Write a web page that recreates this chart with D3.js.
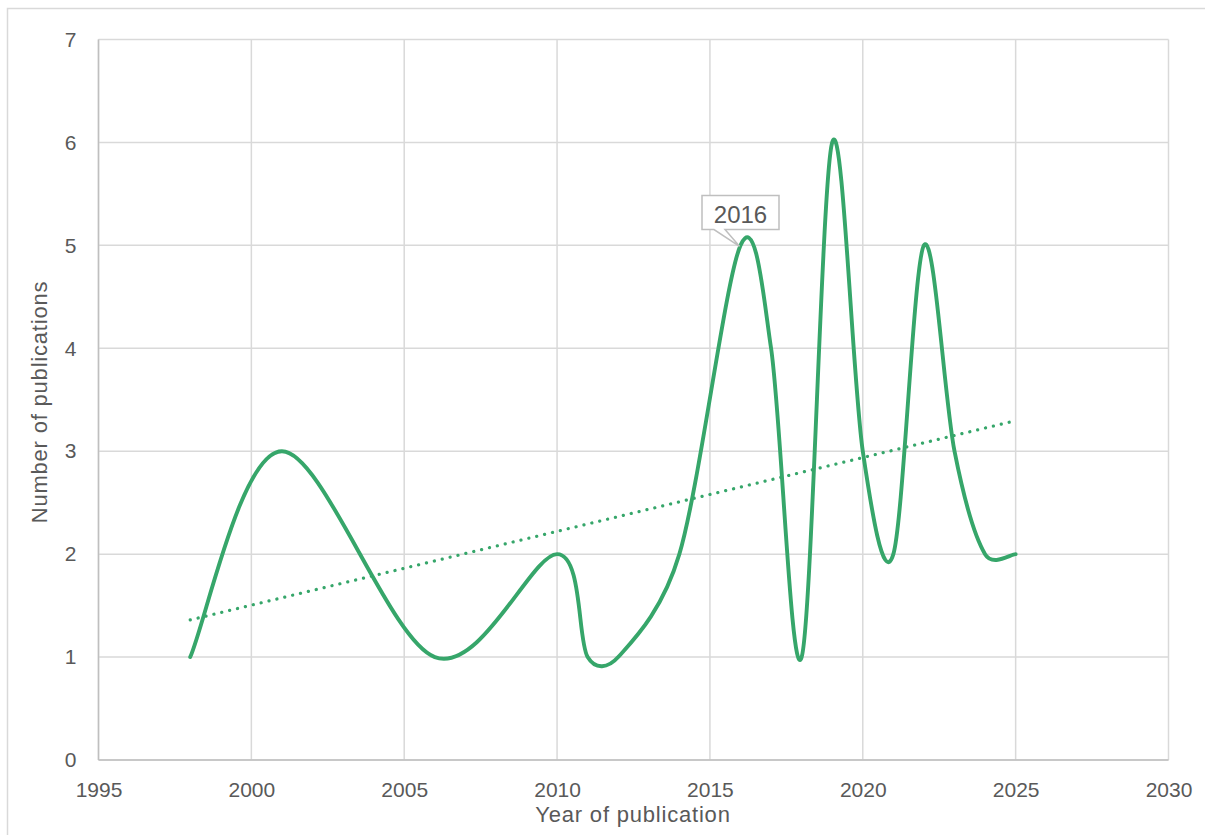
<!DOCTYPE html>
<html><head><meta charset="utf-8">
<script src="https://cdn.jsdelivr.net/npm/d3@7"></script>
<style>
html,body{margin:0;padding:0;background:#fff;}
svg{display:block;}
text{font-family:"Liberation Sans",Arial,sans-serif;fill:#595959;}
</style></head>
<body>
<svg id="chart" width="1205" height="835"></svg>
<script>
const years = [1998, 2001, 2006, 2010, 2011, 2012, 2014, 2016, 2017, 2018, 2019, 2020, 2021, 2022, 2023, 2024, 2025];
const publications = [1, 3, 1, 2, 1, 1, 2, 5, 4, 1, 6, 3, 2, 5, 3, 2, 2];
const xTicks = [1995, 2000, 2005, 2010, 2015, 2020, 2025, 2030];
const yTicks = [0, 1, 2, 3, 4, 5, 6, 7];
const calloutLabel = "2016";
const calloutYear = 2016;
const xTitle = "Year of publication";
const yTitle = "Number of publications";

const svg = d3.select("#chart");
const green = "#36a66a";
const grid = "#d9d9d9";
const FONT = '"Liberation Sans",Arial,sans-serif';

// Excel-style smoothing curve for d3.line (Catmull-Rom with 1/6 tangents, clamped to half segment length)
function ExcelSmooth(context) { this._context = context; }
ExcelSmooth.prototype = {
  areaStart() { this._line = 0; },
  areaEnd() { this._line = NaN; },
  lineStart() { this._pts = []; },
  point(px, py) { this._pts.push([+px, +py]); },
  lineEnd() {
    const p = this._pts, n = p.length, c = this._context;
    if (!n) return;
    c.moveTo(p[0][0], p[0][1]);
    if (n === 2) { c.lineTo(p[1][0], p[1][1]); return; }
    const dist = (a, b) => Math.hypot(b[0] - a[0], b[1] - a[1]);
    for (let i = 0; i < n - 1; i++) {
      const p0 = p[Math.max(i - 1, 0)], p1 = p[i], p2 = p[i + 1], p3 = p[Math.min(i + 2, n - 1)];
      const d12 = dist(p1, p2), d02 = dist(p0, p2), d13 = dist(p1, p3);
      let f = 1 / 6, g = 1 / 6;
      if (d02 / 6 >= d12 / 2) f = d12 / d02 / 2;
      if (d13 / 6 >= d12 / 2) g = d12 / d13 / 2;
      c.bezierCurveTo(
        p1[0] + f * (p2[0] - p0[0]), p1[1] + f * (p2[1] - p0[1]),
        p2[0] - g * (p3[0] - p1[0]), p2[1] - g * (p3[1] - p1[1]),
        p2[0], p2[1]);
    }
  }
};
const curveExcel = ctx => new ExcelSmooth(ctx);

// outer chart border
svg.append("rect").attr("x", 7.5).attr("y", 8.5).attr("width", 1205).attr("height", 840)
  .attr("fill", "none").attr("stroke", grid).attr("stroke-width", 1.5);

const x = d3.scaleLinear().domain([1995, 2030]).range([98.5, 1168.5]);
const y = d3.scaleLinear().domain([0, 7]).range([760, 39.5]);

// gridlines
svg.append("g").selectAll("line").data(xTicks).join("line")
  .attr("x1", d => x(d)).attr("x2", d => x(d)).attr("y1", y(7)).attr("y2", y(0))
  .attr("stroke", grid).attr("stroke-width", 1.5);
svg.append("g").selectAll("line").data(yTicks).join("line")
  .attr("x1", x(1995)).attr("x2", x(2030)).attr("y1", d => y(d)).attr("y2", d => y(d))
  .attr("stroke", grid).attr("stroke-width", 1.5);

// axis lines
svg.append("line").attr("x1", x(1995)).attr("x2", x(2030)).attr("y1", y(0)).attr("y2", y(0))
  .attr("stroke", "#bfbfbf").attr("stroke-width", 1.5);
svg.append("line").attr("x1", x(1995)).attr("x2", x(1995)).attr("y1", y(0)).attr("y2", y(7))
  .attr("stroke", "#bfbfbf").attr("stroke-width", 1.5);

// tick labels via d3 axes
const xAxis = svg.append("g").attr("transform", `translate(0,${y(0)})`)
  .call(d3.axisBottom(x).tickValues(xTicks).tickFormat(d3.format("d")).tickSize(0));
xAxis.select(".domain").remove();
xAxis.selectAll("text").attr("y", 37).attr("dy", null).attr("font-size", 21)
  .attr("fill", "#595959").style("font-family", FONT);

const yAxis = svg.append("g").attr("transform", `translate(${x(1995)},0)`)
  .call(d3.axisLeft(y).tickValues(yTicks).tickFormat(d3.format("d")).tickSize(0).tickPadding(22));
yAxis.select(".domain").remove();
yAxis.selectAll("text").attr("font-size", 21).attr("fill", "#595959")
  .style("font-family", FONT);

// axis titles
svg.append("text").attr("x", 633).attr("y", 822).attr("text-anchor", "middle")
  .attr("font-size", 22).attr("letter-spacing", 0.8).text(xTitle);
svg.append("text").attr("transform", `translate(47,402) rotate(-90)`)
  .attr("text-anchor", "middle").attr("font-size", 22).attr("letter-spacing", 0.8).text(yTitle);

// data
const data = years.map((yr, i) => ({year: yr, value: publications[i]}));

// linear trendline (least squares)
const mx = d3.mean(years), my = d3.mean(publications);
const sxy = d3.sum(data, d => (d.year - mx) * (d.value - my));
const sxx = d3.sum(data, d => (d.year - mx) ** 2);
const slope = sxy / sxx, intercept = my - slope * mx;
const x0 = d3.min(years), x1 = d3.max(years);
svg.append("line")
  .attr("x1", x(x0)).attr("y1", y(intercept + slope * x0))
  .attr("x2", x(x1)).attr("y2", y(intercept + slope * x1))
  .attr("stroke", green).attr("stroke-width", 3.2)
  .attr("stroke-linecap", "round").attr("stroke-dasharray", "0.1 8");

// smoothed line
const line = d3.line().x(d => x(d.year)).y(d => y(d.value)).curve(curveExcel);
svg.append("path").datum(data).attr("d", line)
  .attr("fill", "none").attr("stroke", green).attr("stroke-width", 3.9)
  .attr("stroke-linejoin", "round").attr("stroke-linecap", "round");

// callout
const pk = data.find(d => d.year === calloutYear);
const px = x(pk.year) - 1, py = y(pk.value) + 1;
const bx0 = 702, bx1 = 779, by0 = 195.5, by1 = 229.5;
svg.append("path")
  .attr("d", `M${bx0},${by0}H${bx1}V${by1}H${bx0 + 23}L${px},${py}L${bx0 + 12},${by1}H${bx0}Z`)
  .attr("fill", "#fff").attr("stroke", "#bfbfbf").attr("stroke-width", 1.5);
svg.append("text").attr("x", (bx0 + bx1) / 2).attr("y", 223).attr("text-anchor", "middle")
  .attr("font-size", 24).text(calloutLabel);
</script>
</body></html>
